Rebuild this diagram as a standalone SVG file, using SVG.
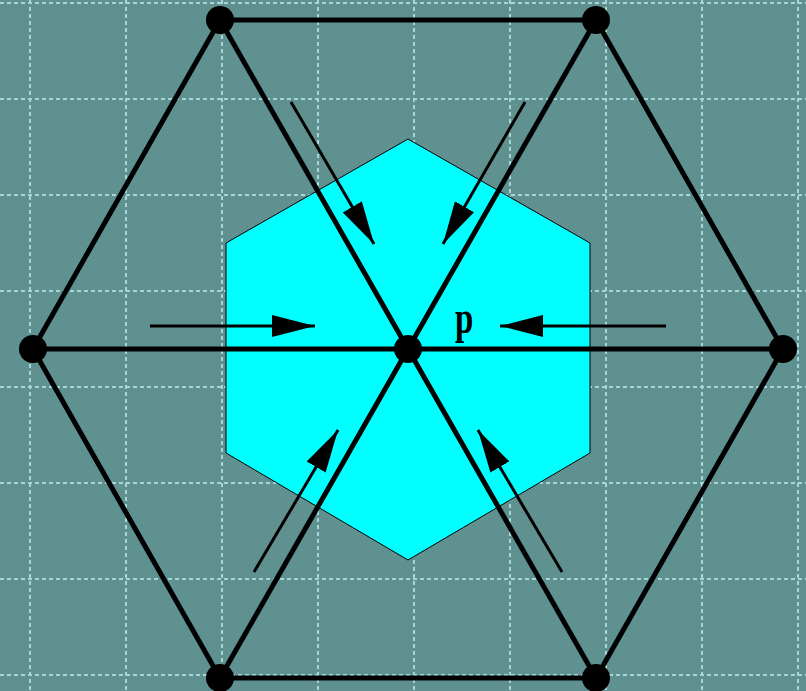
<svg xmlns="http://www.w3.org/2000/svg" width="806" height="691" viewBox="0 0 806 691">
<style>
.grid{stroke:#a6d6d6;stroke-width:2;stroke-dasharray:4 3;fill:none}
.edge{stroke:#000;stroke-width:5;fill:none;stroke-linecap:round}
.arr{stroke:#000;stroke-width:3;fill:none}
.dot{fill:#000}
.lbl{font-family:"Liberation Serif","Times New Roman",serif;font-weight:bold;font-size:33px;fill:#000}
</style>
<defs>
<marker id="ah" markerUnits="userSpaceOnUse" markerWidth="44" markerHeight="24" refX="43" refY="12" orient="auto">
<path d="M0,1 L43,12 L0,23 Z" fill="#000"/>
</marker>
</defs>
<rect width="806" height="691" fill="#5f9191"/>
<g id="grid">
<path class="grid" d="M30,0V691M126,0V691M222,0V691M318,0V691M414,0V691M510,0V691M606,0V691M702,0V691M798,0V691"/>
<path class="grid" d="M0,3H806M0,99H806M0,195H806M0,291H806M0,387H806M0,483H806M0,579H806M0,675H806"/>
</g>
<g id="cell">
<polygon points="408,139 590,243 590,453 408,560 226,453 226,243" fill="#00ffff" stroke="#000" stroke-width="1"/>
</g>
<g id="connectors">
<path class="edge" d="M220,20 L596,20 L783,349 L596,678 L220,678 L33,349 Z"/>
<path class="edge" d="M408,349 L220,20 M408,349 L596,20 M408,349 L783,349 M408,349 L596,678 M408,349 L220,678 M408,349 L33,349"/>
<line class="arr" x1="150" y1="326" x2="315" y2="326" marker-end="url(#ah)"/>
<line class="arr" x1="666" y1="326" x2="500" y2="326" marker-end="url(#ah)"/>
<line class="arr" x1="291" y1="102" x2="374" y2="244" marker-end="url(#ah)"/>
<line class="arr" x1="525" y1="102" x2="443" y2="244" marker-end="url(#ah)"/>
<line class="arr" x1="254" y1="572" x2="338" y2="430" marker-end="url(#ah)"/>
<line class="arr" x1="562" y1="572" x2="478" y2="430" marker-end="url(#ah)"/>
</g>
<g id="p"><circle class="dot" cx="408" cy="349" r="14"/></g>
<g id="v1"><circle class="dot" cx="220" cy="20" r="14"/></g>
<g id="v2"><circle class="dot" cx="596" cy="20" r="14"/></g>
<g id="v3"><circle class="dot" cx="783" cy="349" r="14"/></g>
<g id="v4"><circle class="dot" cx="596" cy="678" r="14"/></g>
<g id="v5"><circle class="dot" cx="220" cy="678" r="14"/></g>
<g id="v6"><circle class="dot" cx="33" cy="349" r="14"/></g>
<g id="label-p"><text class="lbl" transform="translate(455,333) scale(1,1.4)">p</text></g>
</svg>
